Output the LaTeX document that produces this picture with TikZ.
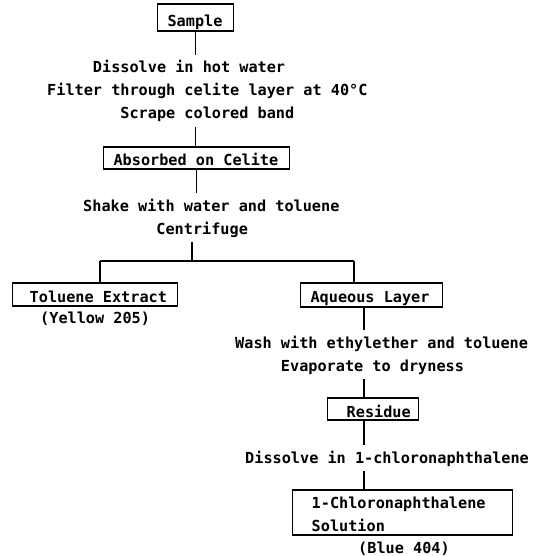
\documentclass[tikz,border=0pt]{standalone}
\usepackage{fontspec}
\setmonofont{DejaVu Sans Mono}
\tikzset{
  txt/.style={font=\ttfamily\bfseries\fontsize{15.2}{23}\selectfont},
  stepnote/.style={txt, anchor=base west, align=left, inner xsep=0pt, inner ysep=5pt},
  stepbox/.style={txt, draw, line width=1.1pt, anchor=base west, align=flush left,
    inner xsep=10pt, inner ysep=0pt},
  link/.style={line width=1.1pt}
}
\begin{document}
\begin{tikzpicture}[x=1pt,y=-1pt]
  \useasboundingbox (0,0) rectangle (537,556);
  \node[stepbox, text width=56pt, text height=23pt, text depth=4pt] (sample) at (157,27) {Sample};
  \node[stepnote] (dissolve) at (47,119) {\phantom{00000}Dissolve in hot water\\
    Filter through celite layer at 40°C\\
    \phantom{00000000}Scrape colored band};
  \node[stepbox, text width=166pt, text height=18pt, text depth=4pt] (celite) at (103,165) {Absorbed on Celite};
  \node[stepnote] (shake) at (83,234) {Shake with water and toluene\\
    \phantom{00000000}Centrifuge};
  \node[stepbox, inner xsep=8pt, text width=149pt, text height=19pt, text depth=4pt] (toluene) at (12,302) {\phantom{0}Toluene Extract};
  \node[stepnote] (yellow) at (40,323) {(Yellow 205)};
  \node[stepbox, text width=122pt, text height=19pt, text depth=5pt] (aqueous) at (300,302) {Aqueous Layer};
  \node[stepnote] (wash) at (235,371) {Wash with ethylether and toluene\\
    \phantom{00000}Evaporate to dryness};
  \node[stepbox, text width=71pt, text height=19pt, text depth=3pt] (residue) at (327,417) {\phantom{0}Residue};
  \node[stepnote] (chloro) at (245,463) {Dissolve in 1-chloronaphthalene};
  \node[stepbox, text width=200pt, text height=18pt, text depth=27pt] (solution) at (292,508) {\phantom{0}1-Chloronaphthalene\\
    \phantom{0}Solution};
  \node[stepnote] (blue) at (358,553) {(Blue 404)};

  \coordinate (split) at (192,261);
  \coordinate (left) at (100,261);
  \coordinate (right) at (354,261);
  \coordinate (spine) at (364,0);

  \draw[link] (sample.south) -- (sample.south |- dissolve.north);
  \draw[link] (celite.north -| sample.south) -- (dissolve.south -| sample.south);
  \draw[link] (celite.south) -- (celite.south |- shake.north);
  \draw[link] (shake.south -| split) -- (split);
  \draw[link] (left) -- (right);
  \draw[link] (left) -- (left |- toluene.north);
  \draw[link] (right) -- (right |- aqueous.north);
  \draw[link] (aqueous.south -| spine) -- (wash.north -| spine);
  \draw[link] (wash.south -| spine) -- (residue.north -| spine);
  \draw[link] (residue.south -| spine) -- (chloro.north -| spine);
  \draw[link] (chloro.south -| spine) -- (solution.north -| spine);
\end{tikzpicture}
\end{document}
